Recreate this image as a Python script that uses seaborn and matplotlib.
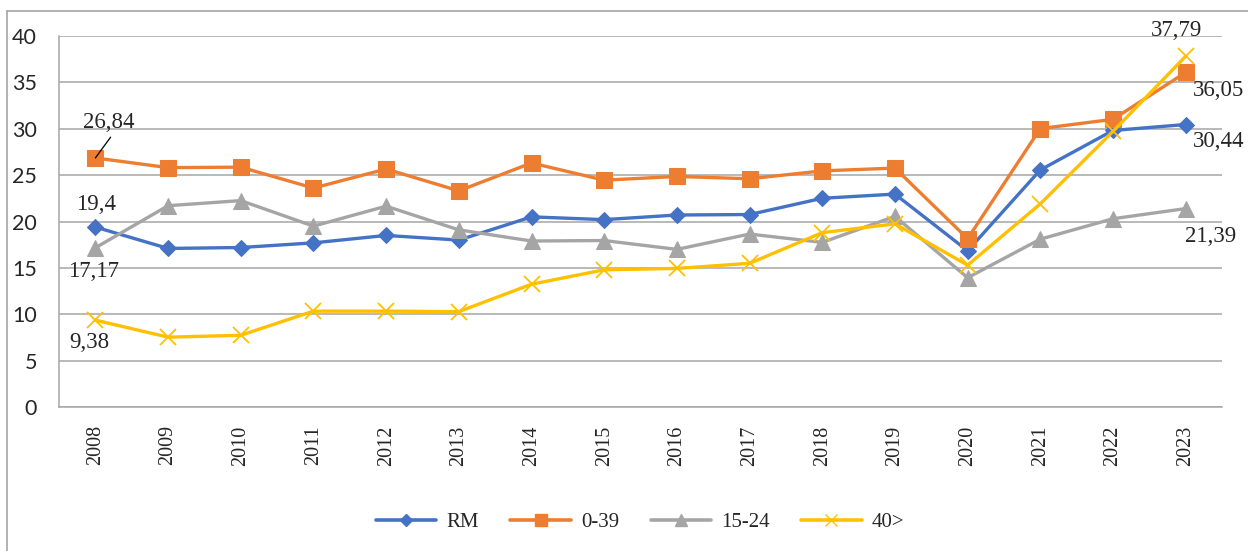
import pandas as pd
import numpy as np
import matplotlib
matplotlib.use('Agg')
import matplotlib.pyplot as plt
import seaborn as sns
from matplotlib.lines import Line2D

years = ['2008', '2009', '2010', '2011', '2012', '2013', '2014', '2015',
         '2016', '2017', '2018', '2019', '2020', '2021', '2022', '2023']

rm = [19.4, 17.1, 17.2, 17.7, 18.5, 18.0, 20.5, 20.2,
      20.7, 20.75, 22.5, 22.95, 16.85, 25.55, 29.8, 30.44]
g0_39 = [26.84, 25.8, 25.85, 23.6, 25.65, 23.3, 26.3, 24.45,
         24.85, 24.6, 25.45, 25.75, 18.15, 30.0, 31.0, 36.05]
g15_24 = [17.17, 21.7, 22.25, 19.5, 21.65, 19.1, 17.9, 17.95,
          17.0, 18.65, 17.75, 20.55, 13.95, 18.1, 20.3, 21.39]
g40 = [9.38, 7.55, 7.75, 10.35, 10.35, 10.3, 13.25, 14.8,
       14.95, 15.5, 18.8, 19.75, 15.3, 21.9, 29.7, 37.79]

series_names = ['RM', '0-39', '15-24', '40>']
colors = ['#4472C4', '#ED7D31', '#A5A5A5', '#FFC000']
marker_list = ['D', 's', '^', 'x']
marker_sizes = [8, 11, 11, 11]

df = pd.DataFrame({'year': years * 4,
                   'value': rm + g0_39 + g15_24 + g40,
                   'serie': np.repeat(series_names, len(years))})

sns.set_style('white')
plt.rcParams['font.family'] = ['Lato', 'DejaVu Sans']

fig = plt.figure(figsize=(12.48, 5.51), dpi=100)
ax = fig.add_axes([0.0473, 0.2608, 0.9319, 0.6744])

palette = dict(zip(series_names, colors))
sns.lineplot(data=df, x='year', y='value', hue='serie', palette=palette,
             linewidth=2.4, legend=False, ax=ax, zorder=3)

# marcadores por serie
for line, m, ms, c in zip(ax.lines, marker_list, marker_sizes, colors):
    line.set_marker(m)
    line.set_markersize(ms)
    line.set_markerfacecolor(c)
    line.set_markeredgecolor(c)
    if m == 'x':
        line.set_markeredgewidth(1.3)

ax.set_xlim(-0.5, len(years) - 0.5)
ax.set_ylim(0, 40)
ax.set_yticks(range(0, 41, 5))
ax.set_xlabel('')
ax.set_ylabel('')

ax.yaxis.grid(True, color='#A6A6A6', linewidth=1.1)
ax.set_axisbelow(True)
for s in ['top', 'right']:
    ax.spines[s].set_visible(False)
for s in ['left', 'bottom']:
    ax.spines[s].set_color('#A6A6A6')
    ax.spines[s].set_linewidth(1.1)

# ticks del eje x entre categorias
ax.set_xticks(np.arange(len(years)))
ax.set_xticklabels(years, rotation=90, family='Liberation Serif', fontsize=14.5)
ax.set_xticks(np.arange(-0.5, len(years), 1), minor=True)
ax.tick_params(axis='x', which='major', length=0, pad=13)
ax.tick_params(axis='x', which='minor', length=7, color='#A6A6A6', width=1.1)
ax.tick_params(axis='y', length=6, color='#A6A6A6', width=1.1, pad=10, labelsize=15.5)

# etiquetas de datos
lab_font = dict(family='Liberation Serif', fontsize=16.5, ha='center', va='center')
ax.annotate('26,84', xy=(0, g0_39[0]), xytext=(9.5, 25.5), textcoords='offset points', **lab_font)
ax.annotate('', xy=(0, g0_39[0]), xytext=(11, 15), textcoords='offset points',
            arrowprops=dict(arrowstyle='-', color='black', lw=0.9, shrinkA=0, shrinkB=0))
ax.annotate('19,4', xy=(0, rm[0]), xytext=(0.7, 16.4), textcoords='offset points', **lab_font)
ax.annotate('17,17', xy=(0, g15_24[0]), xytext=(-1.4, -16.9), textcoords='offset points', **lab_font)
ax.annotate('9,38', xy=(0, g40[0]), xytext=(-4.3, -15.9), textcoords='offset points', **lab_font)
ax.annotate('37,79', xy=(15, g40[-1]), xytext=(-6.5, 18.5), textcoords='offset points', **lab_font)
ax.annotate('36,05', xy=(15, g0_39[-1]), xytext=(23.8, -13), textcoords='offset points', **lab_font)
ax.annotate('30,44', xy=(15, rm[-1]), xytext=(23.8, -12.2), textcoords='offset points', **lab_font)
ax.annotate('21,39', xy=(15, g15_24[-1]), xytext=(18, -20), textcoords='offset points', **lab_font)

handles = [Line2D([0], [0], color=c, marker=m, markersize=ms * 0.8, linewidth=2.6,
                  markeredgecolor=c, markerfacecolor=c)
           for c, m, ms in zip(colors, marker_list, marker_sizes)]
fig.legend(handles, series_names, loc='center', bbox_to_anchor=(0.513, 0.052),
           ncol=4, frameon=False, prop={'family': 'Liberation Serif', 'size': 15},
           handlelength=2.9, columnspacing=1.5, handletextpad=0.5)

# borde de la figura
fig.add_artist(Line2D([0.006, 1.0], [0.98, 0.98], transform=fig.transFigure,
                      color='#A6A6A6', linewidth=1.2))
fig.add_artist(Line2D([0.006, 0.006], [0.0, 0.98], transform=fig.transFigure,
                      color='#A6A6A6', linewidth=1.2))

fig.savefig('out.png', dpi=100)
